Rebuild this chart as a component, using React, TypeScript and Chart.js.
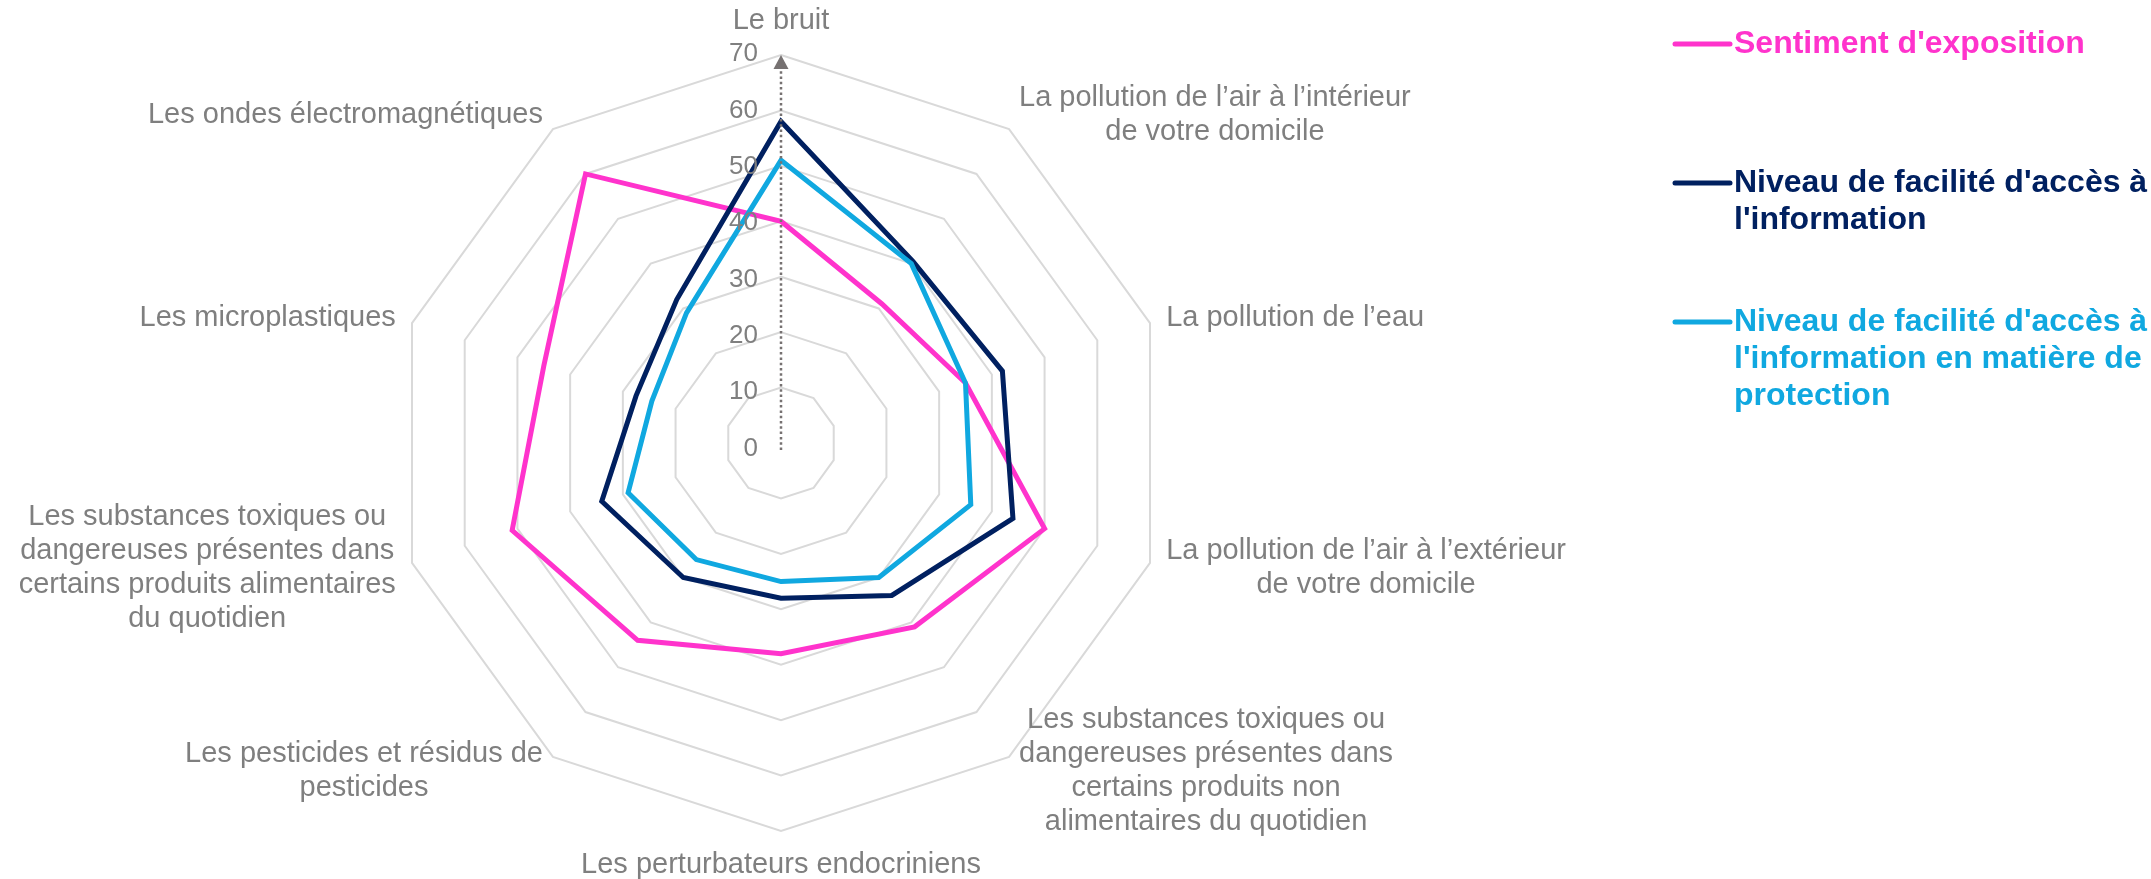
import React, { useEffect, useRef } from "react";
import { Chart, registerables } from "chart.js";

Chart.register(...registerables);

// ---------- DATA ----------
const categories: string[][] = [
  ["Le bruit"],
  ["La pollution de l’air à l’intérieur", "de votre domicile"],
  ["La pollution de l’eau"],
  ["La pollution de l’air à l’extérieur", "de votre domicile"],
  ["Les substances toxiques ou", "dangereuses présentes dans", "certains produits non", "alimentaires du quotidien"],
  ["Les perturbateurs endocriniens"],
  ["Les pesticides et résidus de", "pesticides"],
  ["Les substances toxiques ou", "dangereuses présentes dans", "certains produits alimentaires", "du quotidien"],
  ["Les microplastiques"],
  ["Les ondes électromagnétiques"],
];

const seriesNames = [
  "Sentiment d'exposition",
  "Niveau de facilité d'accès à l'information",
  "Niveau de facilité d'accès à l'information en matière de protection",
];

const legendLines: string[][] = [
  ["Sentiment d'exposition"],
  ["Niveau de facilité d'accès à", "l'information"],
  ["Niveau de facilité d'accès à", "l'information en matière de", "protection"],
];

const sentimentExposition = [40, 31, 35, 50, 41, 38, 44, 51, 45, 60];
const accesInformation = [58, 40.5, 42, 44, 34, 28, 30, 34, 27.5, 32];
const accesInfoProtection = [51, 40, 35, 36, 30, 25, 26, 29, 24.5, 29];

const scaleMin = 0;
const scaleMax = 70;
const scaleStep = 10;

// ---------- STYLE ----------
const COLORS = ["#FF33CC", "#002060", "#10A8E0"];
const FONT = '"Liberation Sans", Arial, Helvetica, sans-serif';
const LABEL_COLOR = "#7F7F7F";
const AXIS_COLOR = "#767171";

const overlayPlugin = {
  id: "overlay",
  afterDatasetsDraw(chart: any) {
    const s = chart.scales.r;
    const ctx: CanvasRenderingContext2D = chart.ctx;
    const top = s.getPointPositionForValue(0, s.max);
    ctx.save();
    // dotted vertical axis
    ctx.strokeStyle = AXIS_COLOR;
    ctx.lineWidth = 2.5;
    ctx.setLineDash([2.5, 2.8]);
    ctx.beginPath();
    ctx.moveTo(s.xCenter, s.yCenter + 7);
    ctx.lineTo(top.x, top.y + 13);
    ctx.stroke();
    ctx.setLineDash([]);
    // arrow head
    ctx.fillStyle = AXIS_COLOR;
    ctx.beginPath();
    ctx.moveTo(top.x, top.y);
    ctx.lineTo(top.x - 7.5, top.y + 14);
    ctx.lineTo(top.x + 7.5, top.y + 14);
    ctx.closePath();
    ctx.fill();
    // tick labels
    ctx.font = `26px ${FONT}`;
    ctx.textAlign = "right";
    ctx.textBaseline = "middle";
    ctx.fillStyle = LABEL_COLOR;
    s.ticks.forEach((t: any) => {
      const p = s.getPointPositionForValue(0, t.value);
      const shift = (5.5 * (scaleMax - scaleStep - t.value)) / (scaleMax - scaleStep);
      ctx.fillText(String(t.value), p.x - 23, p.y + shift);
    });
    ctx.restore();
  },
  afterDraw(chart: any) {
    const s = chart.scales.r;
    const ctx: CanvasRenderingContext2D = chart.ctx;
    ctx.save();
    // point labels
    const lh = 34;
    ctx.font = `29px ${FONT}`;
    ctx.fillStyle = LABEL_COLOR;
    ctx.textBaseline = "middle";
    ctx.textAlign = "center";
    const labels: string[][] = chart.data.labels;
    labels.forEach((lines, i) => {
      const a = s.getIndexAngle(i);
      const sx = Math.sin(a);
      const cy = -Math.cos(a);
      const p = s.getPointPosition(i, s.drawingArea + 17);
      const widths = lines.map((l) => ctx.measureText(l).width);
      const maxW = Math.max(...widths);
      let cx: number;
      if (Math.abs(sx) < 0.01) cx = p.x;
      else if (sx > 0) cx = p.x + maxW / 2;
      else cx = p.x - maxW / 2;
      let y0: number;
      const n = lines.length;
      if (Math.abs(sx) < 0.01 && cy < 0) y0 = p.y - n * lh + lh / 2;
      else if (Math.abs(sx) < 0.01 && cy > 0) y0 = p.y + lh / 2;
      else y0 = p.y - ((n - 1) * lh) / 2;
      lines.forEach((l, k) => ctx.fillText(l, cx, y0 + k * lh));
    });
    // legend
    const lx0 = 1675;
    const lx1 = 1730;
    const tx = 1734;
    const itemTop = 44;
    const itemGap = 139;
    const llh = 37;
    ctx.font = `bold 32px ${FONT}`;
    ctx.textAlign = "left";
    ctx.textBaseline = "middle";
    ctx.lineCap = "round";
    chart.data.datasets.forEach((ds: any, i: number) => {
      const y = itemTop + i * itemGap;
      ctx.strokeStyle = ds.borderColor;
      ctx.lineWidth = 5;
      ctx.beginPath();
      ctx.moveTo(lx0, y);
      ctx.lineTo(lx1, y);
      ctx.stroke();
      ctx.fillStyle = ds.borderColor;
      legendLines[i].forEach((l, k) => ctx.fillText(l, tx, y + k * llh));
    });
    ctx.restore();
  },
};

export default function App() {
  const ref = useRef<HTMLCanvasElement>(null);
  useEffect(() => {
    if (!ref.current) return;
    const series = [sentimentExposition, accesInformation, accesInfoProtection];
    const chart = new Chart(ref.current, {
      type: "radar",
      data: {
        labels: categories as any,
        datasets: series.map((d, i) => ({
          label: seriesNames[i],
          data: d,
          borderColor: COLORS[i],
          backgroundColor: "transparent",
          borderWidth: 5,
          borderJoinStyle: "miter" as const,
          pointRadius: 0,
          pointHoverRadius: 0,
          fill: false,
          tension: 0,
          order: 3 - i,
        })),
      },
      options: {
        responsive: false,
        animation: false,
        devicePixelRatio: 1,
        layout: { padding: { top: 55, bottom: 48, left: 0, right: 589 } },
        plugins: { legend: { display: false }, tooltip: { enabled: false } },
        scales: {
          r: {
            min: scaleMin,
            max: scaleMax,
            beginAtZero: true,
            ticks: { display: false, stepSize: scaleStep },
            pointLabels: { display: false },
            angleLines: { display: false },
            grid: { color: "#D9D9D9", lineWidth: 2, circular: false },
          },
        },
      },
      plugins: [overlayPlugin],
    });
    return () => chart.destroy();
  }, []);
  return (
    <div style={{ position: "fixed", left: 0, top: 0, width: 2151, height: 879, background: "#fff" }}>
      <canvas ref={ref} width={2151} height={879} style={{ display: "block" }} />
    </div>
  );
}
